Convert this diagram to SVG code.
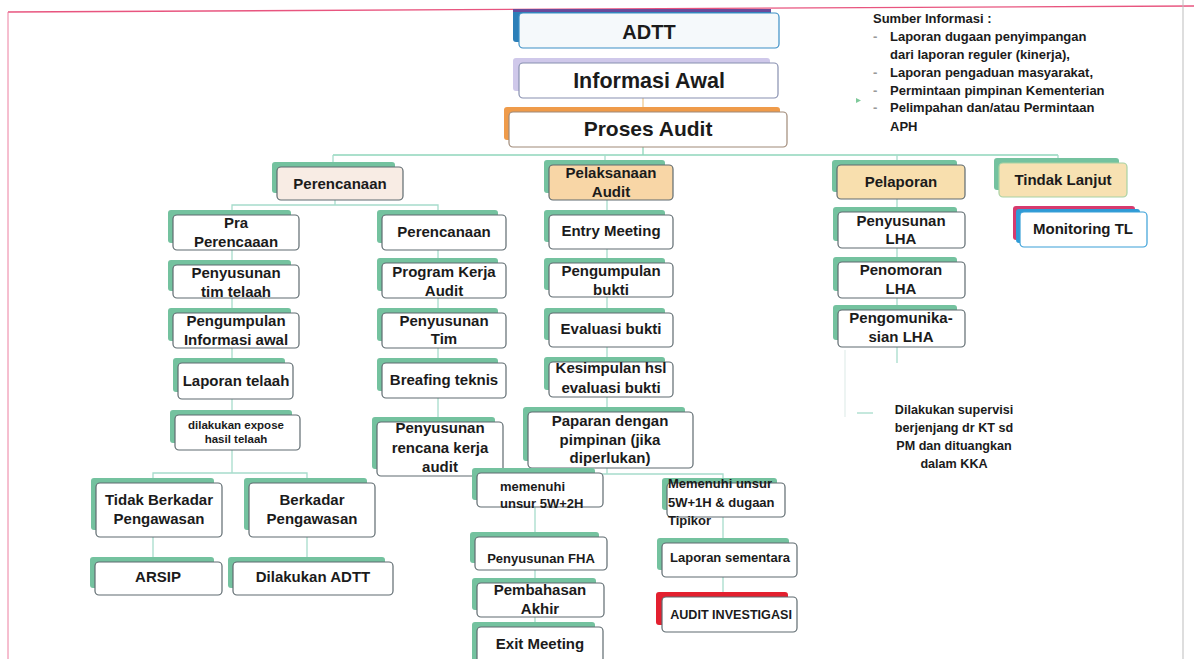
<svg xmlns="http://www.w3.org/2000/svg" width="1194" height="659" viewBox="0 0 1194 659">
<style>
.bx{fill:#ffffff;stroke:#5f6b70;stroke-width:1.2}
.sh{fill:#74c29f}
.t{font-family:"Liberation Sans",Arial,sans-serif;font-weight:bold;font-size:15px;fill:#1b1b1b;text-anchor:middle}
.s{font-size:13px}
.l{text-anchor:start}
.c{stroke:#a6dccb;stroke-width:1.3;fill:none}
.note{font-family:"Liberation Sans",Arial,sans-serif;font-weight:bold;font-size:12.6px;fill:#1b1b1b}
.src{font-size:13px}
</style>
<rect x="0" y="0" width="1194" height="659" fill="#ffffff"/>
<g id="frame">
<line x1="8" y1="12" x2="1194" y2="6" stroke="#e8557f" stroke-width="1.3"/>
<line x1="8" y1="12" x2="8" y2="659" stroke="#ec7fa0" stroke-width="1"/>
<line x1="1183" y1="0" x2="1183" y2="659" stroke="#bdbdbd" stroke-width="1"/>
</g>
<g id="connectors">
<line class="c" x1="643" y1="98" x2="643" y2="112" style="stroke:#f0c98f"/>
<polyline class="c" points="643,147 643,155" style="stroke:#8fd6bb"/>
<line class="c" x1="333" y1="155" x2="1058" y2="155" style="stroke:#8fd6bb"/>
<line class="c" x1="333" y1="155" x2="333" y2="167"/>
<line class="c" x1="605" y1="155" x2="605" y2="165"/>
<line class="c" x1="897" y1="155" x2="897" y2="165"/>
<line class="c" x1="1058" y1="155" x2="1058" y2="163"/>
<polyline class="c" points="335,200 335,205"/>
<polyline class="c" points="232,215 232,205 438,205 438,215"/>
<line class="c" x1="232" y1="250" x2="232" y2="265"/>
<line class="c" x1="232" y1="298" x2="232" y2="313"/>
<line class="c" x1="232" y1="348" x2="232" y2="363"/>
<line class="c" x1="232" y1="399" x2="232" y2="415"/>
<line class="c" x1="232" y1="450" x2="232" y2="473"/>
<polyline class="c" points="153,483 153,473 307,473 307,483"/>
<line class="c" x1="153" y1="537" x2="153" y2="562"/>
<line class="c" x1="307" y1="537" x2="307" y2="562"/>
<line class="c" x1="438" y1="250" x2="438" y2="263"/>
<line class="c" x1="438" y1="298" x2="438" y2="313"/>
<line class="c" x1="438" y1="348" x2="438" y2="363"/>
<line class="c" x1="438" y1="398" x2="438" y2="422"/>
<line class="c" x1="607" y1="200" x2="607" y2="215"/>
<line class="c" x1="607" y1="249" x2="607" y2="263"/>
<line class="c" x1="607" y1="297" x2="607" y2="313"/>
<line class="c" x1="607" y1="347" x2="607" y2="362"/>
<line class="c" x1="607" y1="397" x2="607" y2="412"/>
<polyline class="c" points="607,468 607,474"/>
<polyline class="c" points="535,474 723,474 723,483"/>
<line class="c" x1="535" y1="507" x2="535" y2="537"/>
<line class="c" x1="535" y1="570" x2="535" y2="583"/>
<line class="c" x1="535" y1="617" x2="535" y2="627"/>
<line class="c" x1="723" y1="517" x2="723" y2="543"/>
<line class="c" x1="723" y1="577" x2="723" y2="597"/>
<line class="c" x1="897" y1="199" x2="897" y2="212"/>
<line class="c" x1="897" y1="248" x2="897" y2="262"/>
<line class="c" x1="897" y1="298" x2="897" y2="310"/>
<line class="c" x1="897" y1="347" x2="897" y2="363"/>
<line class="c" x1="845" y1="350" x2="845" y2="417" style="stroke:#e4efec"/>
<line class="c" x1="857" y1="413" x2="873" y2="413"/>
</g>
<g id="n-adtt">
<rect x="513" y="9" width="258" height="33" rx="3" fill="#2c7fb8"/>
<rect x="513" y="9" width="258" height="3" fill="#6a4a9a"/>
<rect class="bx" x="519" y="13" width="260" height="35" rx="4" style="stroke:#3d8fc5;fill:#f5f9fb"/>
<text class="t" x="649" y="39" style="font-size:20px">ADTT</text>
</g>
<g id="n-informasi">
<rect x="513" y="58" width="257" height="33" rx="3" fill="#cfc8ea"/>
<rect class="bx" x="519" y="63" width="259" height="35" rx="4" style="stroke:#8890b0"/>
<text class="t" x="649" y="88" style="font-size:21.5px">Informasi Awal</text>
</g>
<g id="n-proses">
<rect x="504" y="107" width="276" height="33" rx="3" fill="#ef9b4a"/>
<rect class="bx" x="509" y="112" width="278" height="35" rx="4" style="stroke:#a08a78"/>
<text class="t" x="648" y="136" style="font-size:21px">Proses Audit</text>
</g>
<g id="n-sumber">
<text class="note src" x="873" y="23">Sumber Informasi :</text>
<text class="note src" x="873" y="41" style="fill:#999">-</text>
<text class="note src" x="890" y="41">Laporan dugaan penyimpangan</text>
<text class="note src" x="890" y="59">dari laporan reguler (kinerja),</text>
<text class="note src" x="873" y="77" style="fill:#999">-</text>
<text class="note src" x="890" y="77">Laporan pengaduan masyarakat,</text>
<text class="note src" x="873" y="95" style="fill:#999">-</text>
<text class="note src" x="890" y="95">Permintaan pimpinan Kementerian</text>
<text class="note src" x="873" y="112" style="fill:#999">-</text>
<text class="note src" x="890" y="112">Pelimpahan dan/atau Permintaan</text>
<text class="note src" x="890" y="131">APH</text>
<polygon points="856,98 861,100.5 856,103" fill="#7fc99a"/>
</g>
<g id="n-perencanaan-cat">
<rect class="sh" x="272" y="162" width="123" height="31" rx="3"/>
<rect class="bx" x="277" y="167" width="126" height="33" rx="4" style="fill:#f8ece4"/>
<text class="t" x="340" y="189">Perencanaan</text>
</g>
<g id="n-pelaksanaan-cat">
<rect class="sh" x="544" y="160" width="121" height="33" rx="3"/>
<rect class="bx" x="549" y="165" width="124" height="35" rx="4" style="fill:#f8d6a6"/>
<text class="t" x="611" y="178">Pelaksanaan</text>
<text class="t" x="611" y="197">Audit</text>
</g>
<g id="n-pelaporan-cat">
<rect class="sh" x="832" y="160" width="125" height="32" rx="3"/>
<rect class="bx" x="837" y="165" width="128" height="34" rx="4" style="fill:#f8dfae"/>
<text class="t" x="901" y="187">Pelaporan</text>
</g>
<g id="n-tindak-cat">
<rect class="sh" x="994" y="158" width="125" height="32" rx="3"/>
<rect class="bx" x="999" y="163" width="128" height="34" rx="4" style="fill:#f7e1b2;stroke:#a8d2a4"/>
<text class="t" x="1063" y="185">Tindak Lanjut</text>
</g>
<g id="n-pra">
<rect class="sh" x="168" y="210" width="123" height="33" rx="3"/>
<rect class="bx" x="173" y="215" width="126" height="35" rx="4"/>
<text class="t" x="236" y="228">Pra</text>
<text class="t" x="236" y="247">Perencaaan</text>
</g>
<g id="n-tim-telaah">
<rect class="sh" x="168" y="260" width="123" height="31" rx="3"/>
<rect class="bx" x="173" y="265" width="126" height="33" rx="4"/>
<text class="t" x="236" y="278">Penyusunan</text>
<text class="t" x="236" y="297">tim telaah</text>
</g>
<g id="n-pengumpulan-info">
<rect class="sh" x="168" y="308" width="123" height="33" rx="3"/>
<rect class="bx" x="173" y="313" width="126" height="35" rx="4"/>
<text class="t" x="236" y="326">Pengumpulan</text>
<text class="t" x="236" y="345">Informasi awal</text>
</g>
<g id="n-laporan-telaah">
<rect class="sh" x="173" y="358" width="112" height="34" rx="3"/>
<rect class="bx" x="178" y="363" width="115" height="36" rx="4"/>
<text class="t" x="236" y="386">Laporan telaah</text>
</g>
<g id="n-expose">
<rect class="sh" x="170" y="410" width="122" height="33" rx="3"/>
<rect class="bx" x="175" y="415" width="125" height="35" rx="4"/>
<text class="t" x="236" y="429" style="font-size:11.5px">dilakukan expose</text>
<text class="t" x="236" y="443" style="font-size:11.5px">hasil telaah</text>
</g>
<g id="n-perencanaan-sub">
<rect class="sh" x="377" y="210" width="121" height="33" rx="3"/>
<rect class="bx" x="382" y="215" width="124" height="35" rx="4"/>
<text class="t" x="444" y="237">Perencanaan</text>
</g>
<g id="n-pka">
<rect class="sh" x="377" y="258" width="121" height="33" rx="3"/>
<rect class="bx" x="382" y="263" width="124" height="35" rx="4"/>
<text class="t" x="444" y="277">Program Kerja</text>
<text class="t" x="444" y="296">Audit</text>
</g>
<g id="n-tim">
<rect class="sh" x="377" y="308" width="121" height="33" rx="3"/>
<rect class="bx" x="382" y="313" width="124" height="35" rx="4"/>
<text class="t" x="444" y="326">Penyusunan</text>
<text class="t" x="444" y="344">Tim</text>
</g>
<g id="n-breafing">
<rect class="sh" x="377" y="358" width="121" height="33" rx="3"/>
<rect class="bx" x="382" y="363" width="124" height="35" rx="4"/>
<text class="t" x="444" y="385">Breafing teknis</text>
</g>
<g id="n-rencana">
<rect class="sh" x="372" y="417" width="123" height="52" rx="3"/>
<rect class="bx" x="377" y="422" width="126" height="54" rx="4"/>
<text class="t" x="440" y="433">Penyusunan</text>
<text class="t" x="440" y="453">rencana kerja</text>
<text class="t" x="440" y="472">audit</text>
</g>
<g id="n-entry">
<rect class="sh" x="544" y="210" width="121" height="32" rx="3"/>
<rect class="bx" x="549" y="215" width="124" height="34" rx="4"/>
<text class="t" x="611" y="236">Entry Meeting</text>
</g>
<g id="n-bukti">
<rect class="sh" x="544" y="258" width="121" height="32" rx="3"/>
<rect class="bx" x="549" y="263" width="124" height="34" rx="4"/>
<text class="t" x="611" y="276">Pengumpulan</text>
<text class="t" x="611" y="295">bukti</text>
</g>
<g id="n-evaluasi">
<rect class="sh" x="544" y="308" width="121" height="32" rx="3"/>
<rect class="bx" x="549" y="313" width="124" height="34" rx="4"/>
<text class="t" x="611" y="334">Evaluasi bukti</text>
</g>
<g id="n-kesimpulan">
<rect class="sh" x="544" y="357" width="121" height="33" rx="3"/>
<rect class="bx" x="549" y="362" width="124" height="35" rx="4"/>
<text class="t" x="611" y="373">Kesimpulan hsl</text>
<text class="t" x="611" y="393">evaluasi bukti</text>
</g>
<g id="n-paparan">
<rect class="sh" x="523" y="407" width="162" height="54" rx="3"/>
<rect class="bx" x="528" y="412" width="165" height="56" rx="4"/>
<text class="t" x="610" y="426">Paparan dengan</text>
<text class="t" x="610" y="445">pimpinan (jika</text>
<text class="t" x="610" y="463">diperlukan)</text>
</g>
<g id="n-5w2h">
<rect class="sh" x="472" y="468" width="123" height="32" rx="3"/>
<rect class="bx" x="477" y="473" width="126" height="34" rx="4"/>
<text class="t s l" x="500" y="491">memenuhi</text>
<text class="t s l" x="500" y="508">unsur 5W+2H</text>
</g>
<g id="n-5w1h">
<rect class="sh" x="662" y="478" width="115" height="32" rx="3"/>
<rect class="bx" x="667" y="483" width="118" height="34" rx="4"/>
<text class="t s l" x="668" y="488">Memenuhi unsur</text>
<text class="t s l" x="668" y="507">5W+1H &amp; dugaan</text>
<text class="t s l" x="668" y="525">Tipikor</text>
</g>
<g id="n-fha">
<rect class="sh" x="470" y="532" width="129" height="31" rx="3"/>
<rect class="bx" x="475" y="537" width="132" height="33" rx="4"/>
<text class="t s" x="541" y="563">Penyusunan FHA</text>
</g>
<g id="n-pembahasan">
<rect class="sh" x="472" y="578" width="124" height="32" rx="3"/>
<rect class="bx" x="477" y="583" width="127" height="34" rx="4"/>
<text class="t" x="540" y="595">Pembahasan</text>
<text class="t" x="540" y="614">Akhir</text>
</g>
<g id="n-exit">
<rect class="sh" x="472" y="622" width="123" height="40" rx="3"/>
<rect class="bx" x="477" y="627" width="126" height="40" rx="4"/>
<text class="t" x="540" y="649">Exit Meeting</text>
</g>
<g id="n-sementara">
<rect class="sh" x="657" y="538" width="132" height="32" rx="3"/>
<rect class="bx" x="662" y="543" width="135" height="34" rx="4"/>
<text class="t s" x="730" y="562">Laporan sementara</text>
</g>
<g id="n-investigasi">
<rect x="656" y="592" width="132" height="33" rx="3" fill="#e3202f"/>
<rect class="bx" x="662" y="597" width="135" height="35" rx="4"/>
<text class="t" x="731" y="619" style="font-size:12.6px">AUDIT INVESTIGASI</text>
</g>
<g id="n-tidak-berkadar">
<rect class="sh" x="91" y="478" width="123" height="52" rx="3"/>
<rect class="bx" x="96" y="483" width="126" height="54" rx="4"/>
<text class="t" x="159" y="505">Tidak Berkadar</text>
<text class="t" x="159" y="524">Pengawasan</text>
</g>
<g id="n-berkadar">
<rect class="sh" x="244" y="478" width="123" height="52" rx="3"/>
<rect class="bx" x="249" y="483" width="126" height="54" rx="4"/>
<text class="t" x="312" y="505">Berkadar</text>
<text class="t" x="312" y="524">Pengawasan</text>
</g>
<g id="n-arsip">
<rect class="sh" x="90" y="557" width="124" height="31" rx="3"/>
<rect class="bx" x="95" y="562" width="127" height="33" rx="4"/>
<text class="t" x="158" y="582">ARSIP</text>
</g>
<g id="n-dilakukan-adtt">
<rect class="sh" x="228" y="557" width="157" height="31" rx="3"/>
<rect class="bx" x="233" y="562" width="160" height="33" rx="4"/>
<text class="t" x="313" y="582">Dilakukan ADTT</text>
</g>
<g id="n-penyusunan-lha">
<rect class="sh" x="833" y="207" width="124" height="34" rx="3"/>
<rect class="bx" x="838" y="212" width="127" height="36" rx="4"/>
<text class="t" x="901" y="226">Penyusunan</text>
<text class="t" x="901" y="244">LHA</text>
</g>
<g id="n-penomoran">
<rect class="sh" x="833" y="257" width="124" height="34" rx="3"/>
<rect class="bx" x="838" y="262" width="127" height="36" rx="4"/>
<text class="t" x="901" y="275">Penomoran</text>
<text class="t" x="901" y="294">LHA</text>
</g>
<g id="n-pengomunikasian">
<rect class="sh" x="833" y="305" width="124" height="35" rx="3"/>
<rect class="bx" x="838" y="310" width="127" height="37" rx="4"/>
<text class="t" x="901" y="323">Pengomunika-</text>
<text class="t" x="901" y="342">sian LHA</text>
</g>
<g id="n-monitoring">
<rect x="1013" y="206" width="122" height="34" rx="3" fill="#d63a6e"/>
<rect x="1016" y="209" width="124" height="34" rx="3" fill="#2f9bd6"/>
<rect class="bx" x="1020" y="212" width="127" height="35" rx="4" style="stroke:#3aa0d8"/>
<text class="t" x="1083" y="234">Monitoring TL</text>
</g>
<g id="n-supervisi">
<text class="note" x="954" y="414" text-anchor="middle">Dilakukan supervisi</text>
<text class="note" x="954" y="432" text-anchor="middle">berjenjang dr KT sd</text>
<text class="note" x="954" y="450" text-anchor="middle">PM dan dituangkan</text>
<text class="note" x="954" y="468" text-anchor="middle">dalam KKA</text>
</g>
</svg>
